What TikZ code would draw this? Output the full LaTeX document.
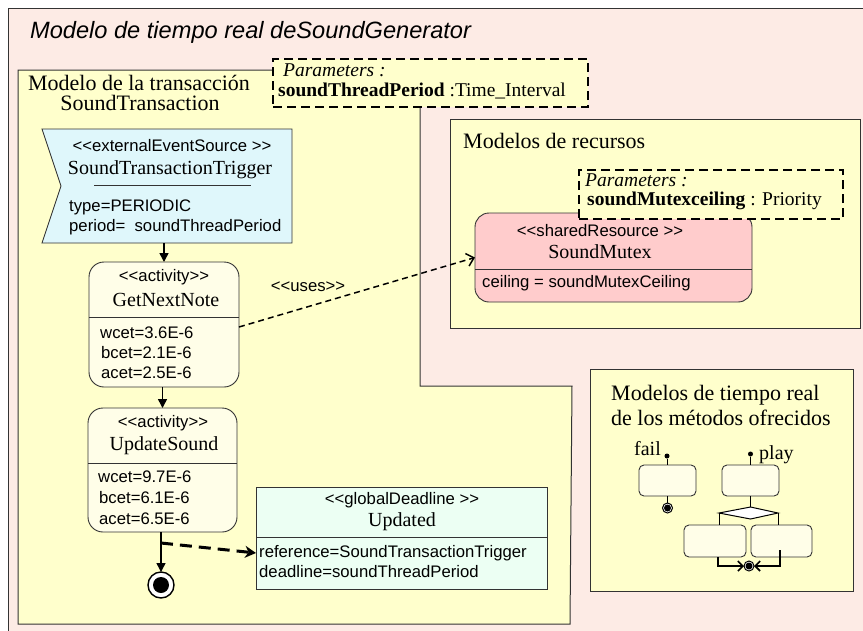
\documentclass[tikz,border=0pt]{standalone}
\usepackage{fontspec}
\setmainfont{Liberation Serif}
\newfontfamily\arialfont{Liberation Sans}
\usetikzlibrary{arrows.meta,calc}

\definecolor{pinkbg}{RGB}{253,235,229}
\definecolor{frameyellow}{RGB}{255,255,204}
\definecolor{triggercyan}{RGB}{223,247,251}
\definecolor{actfill}{RGB}{255,254,232}
\definecolor{deadlinefill}{RGB}{236,255,243}
\definecolor{mutexfill}{RGB}{255,204,204}

% stereotype brackets, kept apart so that no guillemet ligature forms
\newcommand\stl{<\kern0pt<}
\newcommand\stg{>\kern0pt>}
\newcommand\sansfs{\arialfont\fontsize{16.7}{18}\selectfont}
\newcommand\namefs{\fontsize{20}{20}\selectfont}
\newcommand\paramfs{\fontsize{19.5}{19.5}\selectfont}
\newcommand\labelfs{\fontsize{22}{22}\selectfont}
\newcommand\titlefs{\arialfont\itshape\fontsize{23.6}{23.6}\selectfont}

\begin{document}
\begin{tikzpicture}[x=1pt,y=-1pt,
  frame/.style={draw=black!80, line width=1pt, fill=frameyellow},
  boxnode/.style={draw=black!80, line width=0.9pt, inner sep=0, outer sep=0, anchor=north west},
  hidden/.style={inner sep=0, outer sep=0, anchor=north west},
  parambox/.style={draw=black, line width=2pt, dash pattern=on 9pt off 5pt,
    fill=frameyellow, inner sep=0, outer sep=0, anchor=north west},
  divider/.style={draw=black!80, line width=0.9pt},
  sanstxt/.style={font=\sansfs, inner sep=0, text height=12pt, text depth=3.5pt},
  nametxt/.style={font=\namefs, inner sep=0, text height=14pt, text depth=4.5pt},
  paramtxt/.style={font=\paramfs, inner sep=0, text height=13pt, text depth=3pt, anchor=west},
  labeltxt/.style={font=\labelfs, inner sep=0, text height=15pt, text depth=5pt},
  flow/.style={line width=1.5pt, -{Triangle[length=9pt,width=9pt]}},
  usesarrow/.style={line width=1.5pt, dash pattern=on 6pt off 4pt,
    -{Straight Barb[length=7pt,width=13pt,line width=1.5pt]}},
  dlarrow/.style={line width=3pt, dash pattern=on 12pt off 7pt,
    -{Stealth[length=11pt,width=12pt]}},
  mergearrow/.style={line width=1.6pt, -{Straight Barb[length=5pt,width=10pt,line width=1.6pt]}},
  thinline/.style={line width=1pt},
  finalnode/.style={circle, draw=black, fill=white, inner sep=0, outer sep=0},
  dotnode/.style={circle, fill=black, inner sep=0, minimum size=5pt}
]
\useasboundingbox (0,0) rectangle (863,630);

% outer frame
\begin{scope}
  \clip (0,0) rectangle (863,630);
  \fill[white] (0,0) rectangle (863,630);
  \draw[draw=black!80, line width=1pt, fill=pinkbg] (8,8) rectangle (880,645);
\end{scope}
\node[font=\titlefs, inner sep=0, anchor=west] (title) at (30,32)
  {Modelo de tiempo real deSoundGenerator};

% transaction frame
\draw[frame] (18,70) -- (420,70) -- (420,386) -- (572,386) -- (570,624) -- (18,624) -- cycle;
\node[labeltxt] (translbl1) at (139,85) {Modelo de la transacción};
\node[labeltxt] (translbl2) at (140,105) {SoundTransaction};

% resource models frame
\node[boxnode, frame, minimum width=410pt, minimum height=209pt] (rec) at (450,119) {};
\node[labeltxt, anchor=west] (reclbl) at (463,143) {Modelos de recursos};

% offered methods frame
\node[boxnode, frame, minimum width=263pt, minimum height=222pt] (met) at (590,369) {};
\node[labeltxt, anchor=west] (metlbl1) at (611,395) {Modelos de tiempo real};
\node[labeltxt, anchor=west] (metlbl2) at (611,420) {de los métodos ofrecidos};

% transaction parameters
\node[parambox, minimum width=315pt, minimum height=48pt] (par1) at (273,59) {};
\node[paramtxt] (par1a) at (283,71) {\itshape Parameters :};
\node[paramtxt] (par1b) at (278,91) {\textbf{soundThreadPeriod} :Time\_Interval};

% external event source
\node[hidden, minimum width=250pt, minimum height=114pt] (trig) at (42,129) {};
\draw[draw=black!80, line width=0.9pt, fill=triggercyan]
  (trig.north west) -- (trig.north east) -- (trig.south east) -- (trig.south west)
  -- ($(trig.west)+(19,0)$) -- cycle;
\draw[divider] ($(trig.north west)+(52,56)$) -- ($(trig.north west)+(209,56)$);
\node[sanstxt] (trigst) at (172,147) {\stl externalEventSource \stg};
\node[nametxt] (trignm) at (170,170) {SoundTransactionTrigger};
\node[sanstxt, anchor=west] (trigtype) at (69,207) {type=PERIODIC};
\node[sanstxt, anchor=west] (trigper) at (69,227) {period=\ \ soundThreadPeriod};

% activity GetNextNote
\node[boxnode, fill=actfill, rounded corners=15pt, minimum width=150pt, minimum height=125pt] (gnn) at (89,262) {};
\draw[divider] ($(gnn.north west)+(0,55)$) -- ($(gnn.north east)+(0,55)$);
\node[sanstxt] (gnnst) at (164,277) {\stl activity\stg};
\node[nametxt] (gnnnm) at (166,302) {GetNextNote};
\node[sanstxt, anchor=west] (gnnw) at (100,334) {wcet=3.6E-6};
\node[sanstxt, anchor=west] (gnnb) at (101,354) {bcet=2.1E-6};
\node[sanstxt, anchor=west] (gnna) at (101,374) {acet=2.5E-6};

% activity UpdateSound
\node[boxnode, fill=actfill, rounded corners=15pt, minimum width=149pt, minimum height=124pt] (upd) at (88,408) {};
\draw[divider] ($(upd.north west)+(0,55)$) -- ($(upd.north east)+(0,55)$);
\node[sanstxt] (updst) at (163,423) {\stl activity\stg};
\node[nametxt] (updnm) at (164,446) {UpdateSound};
\node[sanstxt, anchor=west] (updw) at (98,478) {wcet=9.7E-6};
\node[sanstxt, anchor=west] (updb) at (99,499) {bcet=6.1E-6};
\node[sanstxt, anchor=west] (upda) at (99,520) {acet=6.5E-6};

% global deadline
\node[boxnode, fill=deadlinefill, minimum width=291pt, minimum height=102pt] (dl) at (256,487) {};
\draw[divider] ($(dl.north west)+(0,50)$) -- ($(dl.north east)+(0,50)$);
\node[sanstxt] (dlst) at (402,500) {\stl globalDeadline \stg};
\node[nametxt] (dlnm) at (402,522) {Updated};
\node[sanstxt, anchor=west] (dlref) at (259,553) {reference=SoundTransactionTrigger};
\node[sanstxt, anchor=west] (dlline) at (259,573) {deadline=soundThreadPeriod};

% final node of the transaction
\node[finalnode, line width=1.4pt, minimum size=26pt] (fin) at (161,585) {};
\fill[black] (fin.center) circle (8);

% shared resource
\node[boxnode, fill=mutexfill, rounded corners=14pt, minimum width=277pt, minimum height=89pt] (mtx) at (475,213) {};
\draw[divider] ($(mtx.north west)+(0,56)$) -- ($(mtx.north east)+(0,56)$);
\node[sanstxt] (mtxst) at (600,232) {\stl sharedResource \stg};
\node[nametxt] (mtxnm) at (600,254) {SoundMutex};
\node[sanstxt, anchor=west] (mtxceil) at (482,283) {ceiling = soundMutexCeiling};

% resource parameters
\node[parambox, minimum width=264pt, minimum height=49pt] (par2) at (579,170) {};
\node[paramtxt] (par2a) at (585,181.5) {\itshape Parameters :};
\node[paramtxt] (par2b) at (587,200.5) {\textbf{soundMutexceiling} : Priority};

% transaction connectors
\draw[flow] (gnn.north |- trig.south) -- (gnn.north);
\draw[flow] (upd.north |- gnn.south) -- (upd.north);
\draw[flow] (fin |- upd.south) -- (fin.north);
\coordinate (dlstart) at ($(upd.south)+(-1.5,11)$);
\draw[dlarrow] (dlstart) -- ([yshift=-15pt]dl.west);
\draw[usesarrow] ([yshift=-2.5pt]gnn.east) -- (mtx.west);
\node[sanstxt] (useslbl) at (308,287) {\stl uses\stg};

% offered methods: fail
\node[dotnode] (faildot) at (667,456) {};
\node[nametxt, anchor=east] (faillbl) at (661,451) {fail};
\node[boxnode, fill=actfill, rounded corners=5pt, minimum width=57pt, minimum height=31pt] (failbox) at (639,465) {};
\node[finalnode, line width=1pt, minimum size=10pt] (failend) at (667.5,508) {};
\fill[black] (failend.center) circle (3.5);
\draw[thinline] (faildot) -- (faildot |- failbox.north);
\draw[thinline] (failend |- failbox.south) -- (failend.north);

% offered methods: play
\node[dotnode] (playdot) at (750.5,454) {};
\node[nametxt, anchor=west] (playlbl) at (759,455) {play};
\node[boxnode, fill=actfill, rounded corners=5pt, minimum width=57pt, minimum height=31pt] (playbox) at (722,465) {};
\draw[thinline] (playdot) -- (playdot |- playbox.north);
\coordinate (dtop) at (750.5,507);
\coordinate (dleft) at (719,513);
\coordinate (dbottom) at (750.5,519);
\coordinate (dright) at (778,513);
\draw[thinline] (playbox.south) -- (dtop);
\draw[thinline, fill=white] (dtop) -- (dright) -- (dbottom) -- (dleft) -- cycle;
\node[boxnode, fill=actfill, rounded corners=5pt, minimum width=62pt, minimum height=32pt] (lbox) at (684,525) {};
\node[boxnode, fill=actfill, rounded corners=5pt, minimum width=61pt, minimum height=32pt] (rbox) at (751,525) {};
\draw[thinline] (dleft) -- (dleft |- lbox.north);
\draw[thinline] (dright) -- (dright |- rbox.north);
\node[finalnode, line width=1pt, minimum size=10pt] (merge) at (749,566) {};
\fill[black] (merge.center) circle (3.5);
\draw[mergearrow] ($(lbox.south)+(3,0)$) |- (merge.west);
\draw[mergearrow] ($(rbox.south)+(-1.5,-7)$) |- (merge.east);
\end{tikzpicture}
\end{document}
